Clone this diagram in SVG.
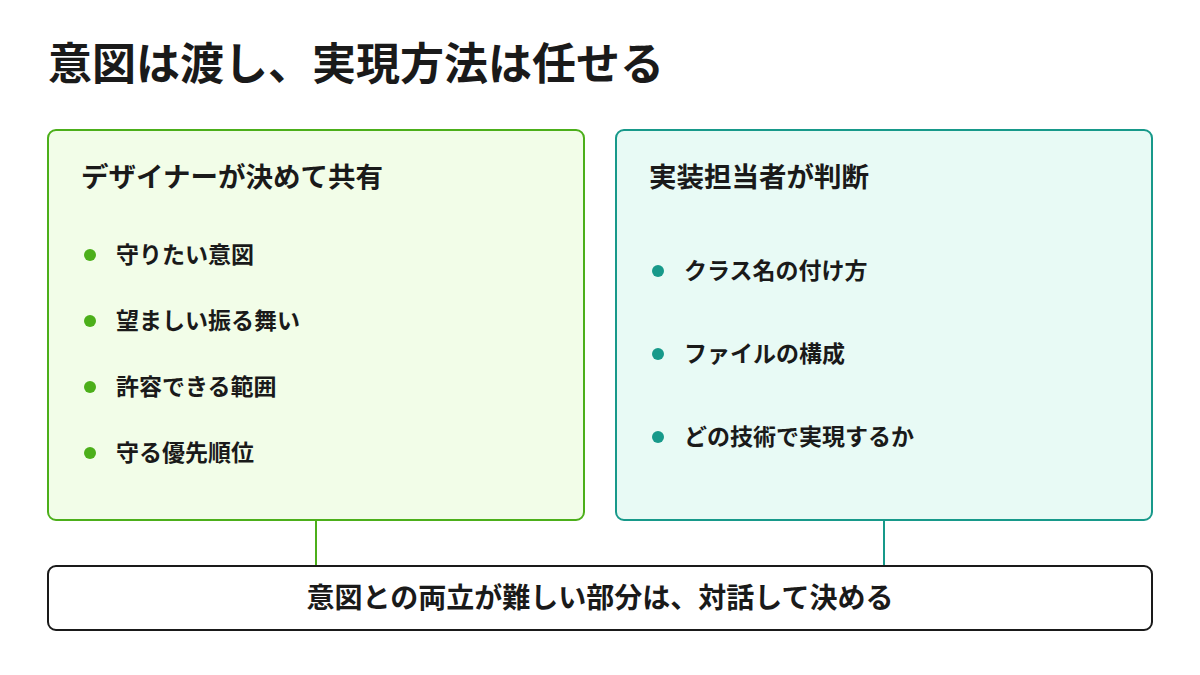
<svg xmlns="http://www.w3.org/2000/svg" width="1200" height="675" viewBox="0 0 1200 675">
<style>
text{font-family:"Noto Sans CJK JP","Noto Sans",sans-serif;font-weight:bold;fill:#1a1a1a}
.t{font-size:44px}.h{font-size:27.5px}.b{font-size:23px}.f{font-size:28px}
</style>
<rect width="1200" height="675" fill="#fff"/>
<text class="t" x="48" y="80">意図は渡し、実現方法は任せる</text>
<g id="connectors">
<line x1="316" y1="520" x2="316" y2="566" stroke="#4caf1a" stroke-width="2"/>
<line x1="884" y1="520" x2="884" y2="566" stroke="#17998a" stroke-width="2"/>
</g>
<g id="designer">
<rect x="48" y="130" width="536" height="390" rx="8" fill="#f2fde8" stroke="#4caf1a" stroke-width="2"/>
<text class="h" x="81" y="187">デザイナーが決めて共有</text>
<g fill="#4caf1a"><circle cx="90" cy="255" r="6"/><circle cx="90" cy="321" r="6"/><circle cx="90" cy="387" r="6"/><circle cx="90" cy="453" r="6"/></g>
<text class="b" x="116" y="263">守りたい意図</text>
<text class="b" x="116" y="329">望ましい振る舞い</text>
<text class="b" x="116" y="395">許容できる範囲</text>
<text class="b" x="116" y="461">守る優先順位</text>
</g>
<g id="implementer">
<rect x="616" y="130" width="536" height="390" rx="8" fill="#e8faf5" stroke="#17998a" stroke-width="2"/>
<text class="h" x="649" y="187">実装担当者が判断</text>
<g fill="#17998a"><circle cx="658" cy="271" r="6"/><circle cx="658" cy="354" r="6"/><circle cx="658" cy="437" r="6"/></g>
<text class="b" x="684" y="279">クラス名の付け方</text>
<text class="b" x="684" y="362">ファイルの構成</text>
<text class="b" x="684" y="445">どの技術で実現するか</text>
</g>
<g id="dialogue">
<rect x="48" y="566" width="1104" height="64" rx="8" fill="#fff" stroke="#1a1a1a" stroke-width="2"/>
<text class="f" x="600" y="608" text-anchor="middle">意図との両立が難しい部分は、対話して決める</text>
</g>
</svg>
